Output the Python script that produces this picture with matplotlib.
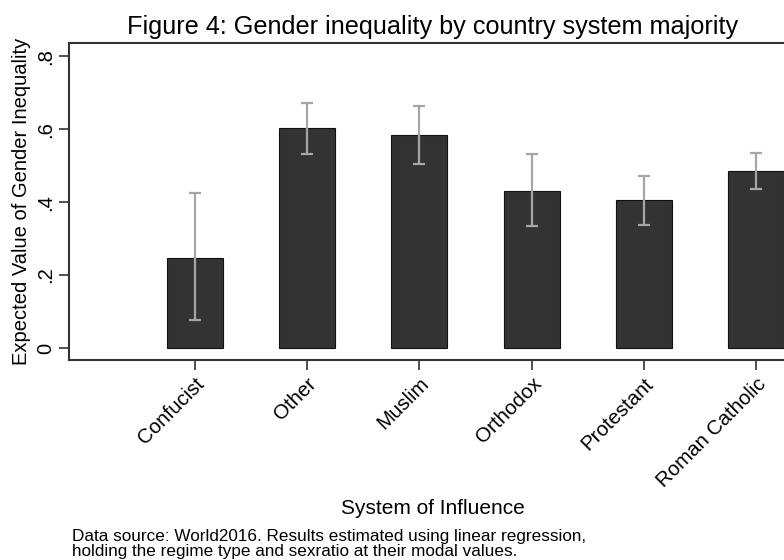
import numpy as np
import matplotlib.pyplot as plt

plt.rcParams['font.family'] = ['Liberation Sans', 'DejaVu Sans']

# estimated values
systems = ["Confucist", "Other", "Muslim", "Orthodox", "Protestant", "Roman Catholic"]
expected = [0.248, 0.604, 0.584, 0.431, 0.405, 0.485]
ci_low = [0.076, 0.533, 0.505, 0.334, 0.338, 0.436]
ci_high = [0.424, 0.673, 0.663, 0.531, 0.472, 0.535]
yticks = [0, 0.2, 0.4, 0.6, 0.8]
ytick_labels = ["0", ".2", ".4", ".6", ".8"]

x = np.arange(len(systems))
expected = np.array(expected)
err = [expected - np.array(ci_low), np.array(ci_high) - expected]

fig = plt.figure(figsize=(7.84, 5.6), dpi=100)
# plot region runs past the right edge of the image, as in the original
ax = fig.add_axes([0.088, 0.357, 1.037, 0.566])

ax.bar(x, expected, width=0.5, color="#333333", edgecolor="#111111", linewidth=0.8, zorder=2)
ax.errorbar(x, expected, yerr=err, fmt="none", ecolor="#a6a6a6", elinewidth=1.6,
            capsize=4, capthick=1.6, zorder=3)

ax.set_xlim(-1.12, 5 + 1.12)
ax.set_ylim(-0.033, 0.836)

ax.set_yticks(yticks)
ax.set_yticklabels(ytick_labels, rotation=90, va="center", fontsize=14.5)
ax.set_xticks(x)
ax.set_xticklabels(systems, rotation=45, ha="right", rotation_mode="anchor", fontsize=14.8)
ax.tick_params(axis="both", length=7, width=1.2, color="#333333")
ax.tick_params(axis="x", pad=3)
ax.tick_params(axis="y", pad=3)

for s in ax.spines.values():
    s.set_color("#333333")
    s.set_linewidth(1.5)

ax.set_ylabel("Expected Value of Gender Inequality", fontsize=14.5, labelpad=4)

fig.text(433 / 784, 1 - 27 / 560, "Figure 4: Gender inequality by country system majority",
         ha="center", va="center", fontsize=18.2)
fig.text(433 / 784, 1 - 509 / 560, "System of Influence", ha="center", va="center", fontsize=15)
fig.text(72 / 784, 1 - 544 / 560,
         "Data source: World2016. Results estimated using linear regression,\n"
         "holding the regime type and sexratio at their modal values.",
         ha="left", va="center", fontsize=12.3, linespacing=0.95)

fig.savefig("out.png", dpi=100)
